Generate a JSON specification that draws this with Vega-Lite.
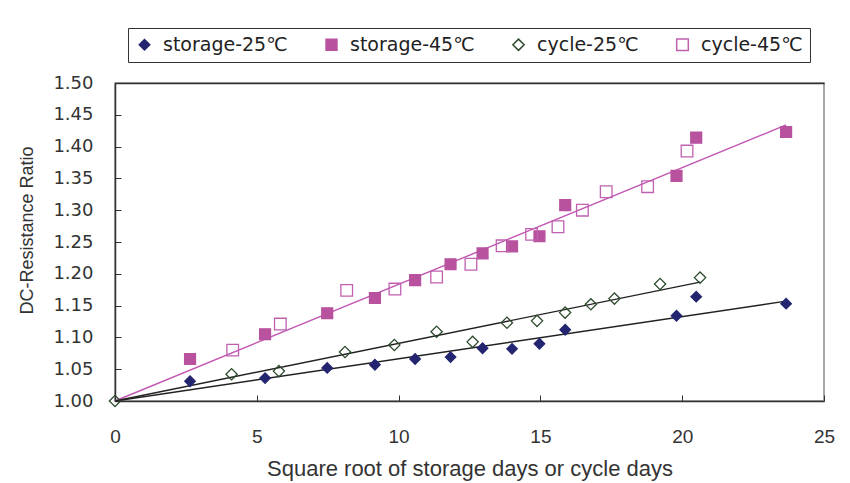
{
  "$schema": "https://vega.github.io/schema/vega-lite/v6.json",
  "width": 709,
  "height": 318,
  "autosize": {"type": "none"},
  "padding": {"left": 115, "top": 83, "right": 26, "bottom": 82},
  "background": "white",
  "config": {
    "view": {"stroke": "#8c8c8c", "strokeWidth": 1.5},
    "axis": {
      "grid": false,
      "domainColor": "#333333",
      "domainWidth": 1.5,
      "tickColor": "#333333",
      "tickWidth": 1,
      "tickSize": -6,
      "labelColor": "#333333",
      "labelFlush": false,
      "labelOverlap": false,
      "titleColor": "#333333",
      "titleFontWeight": "normal"
    },
    "axisY": {
      "values": [1.0, 1.05, 1.1, 1.15, 1.2, 1.25, 1.3, 1.35, 1.4, 1.45, 1.5],
      "format": ".2f",
      "labelFont": "DejaVu Sans",
      "labelFontSize": 18,
      "labelPadding": 28,
      "titleFont": "Liberation Sans",
      "titleFontSize": 18,
      "titlePadding": 16,
      "titleY": 147
    }
  },
  "datasets": {
    "points": [
      {"series": "storage-25℃", "x": 2.646, "y": 1.031},
      {"series": "storage-25℃", "x": 5.292, "y": 1.036},
      {"series": "storage-25℃", "x": 7.483, "y": 1.052},
      {"series": "storage-25℃", "x": 9.165, "y": 1.057},
      {"series": "storage-25℃", "x": 10.583, "y": 1.066},
      {"series": "storage-25℃", "x": 11.832, "y": 1.069},
      {"series": "storage-25℃", "x": 12.961, "y": 1.083},
      {"series": "storage-25℃", "x": 14.0, "y": 1.082},
      {"series": "storage-25℃", "x": 14.967, "y": 1.09},
      {"series": "storage-25℃", "x": 15.875, "y": 1.112},
      {"series": "storage-25℃", "x": 19.799, "y": 1.134},
      {"series": "storage-25℃", "x": 20.494, "y": 1.164},
      {"series": "storage-25℃", "x": 23.664, "y": 1.153},
      {"series": "storage-45℃", "x": 2.646, "y": 1.066},
      {"series": "storage-45℃", "x": 5.292, "y": 1.105},
      {"series": "storage-45℃", "x": 7.483, "y": 1.138},
      {"series": "storage-45℃", "x": 9.165, "y": 1.162},
      {"series": "storage-45℃", "x": 10.583, "y": 1.19},
      {"series": "storage-45℃", "x": 11.832, "y": 1.215},
      {"series": "storage-45℃", "x": 12.961, "y": 1.232},
      {"series": "storage-45℃", "x": 14.0, "y": 1.243},
      {"series": "storage-45℃", "x": 14.967, "y": 1.259},
      {"series": "storage-45℃", "x": 15.875, "y": 1.308},
      {"series": "storage-45℃", "x": 19.799, "y": 1.354},
      {"series": "storage-45℃", "x": 20.494, "y": 1.414},
      {"series": "storage-45℃", "x": 23.664, "y": 1.423},
      {"series": "cycle-25℃", "x": 0, "y": 1.0},
      {"series": "cycle-25℃", "x": 4.11, "y": 1.042},
      {"series": "cycle-25℃", "x": 5.78, "y": 1.047},
      {"series": "cycle-25℃", "x": 8.11, "y": 1.077},
      {"series": "cycle-25℃", "x": 9.85, "y": 1.088},
      {"series": "cycle-25℃", "x": 11.34, "y": 1.109},
      {"series": "cycle-25℃", "x": 12.61, "y": 1.093},
      {"series": "cycle-25℃", "x": 13.82, "y": 1.123},
      {"series": "cycle-25℃", "x": 14.88, "y": 1.126},
      {"series": "cycle-25℃", "x": 15.87, "y": 1.139},
      {"series": "cycle-25℃", "x": 16.78, "y": 1.152},
      {"series": "cycle-25℃", "x": 17.61, "y": 1.161},
      {"series": "cycle-25℃", "x": 19.22, "y": 1.184},
      {"series": "cycle-25℃", "x": 20.63, "y": 1.194},
      {"series": "cycle-45℃", "x": 4.15, "y": 1.08},
      {"series": "cycle-45℃", "x": 5.83, "y": 1.121},
      {"series": "cycle-45℃", "x": 8.17, "y": 1.174},
      {"series": "cycle-45℃", "x": 9.87, "y": 1.176},
      {"series": "cycle-45℃", "x": 11.34, "y": 1.195},
      {"series": "cycle-45℃", "x": 12.55, "y": 1.215},
      {"series": "cycle-45℃", "x": 13.65, "y": 1.244},
      {"series": "cycle-45℃", "x": 14.69, "y": 1.262},
      {"series": "cycle-45℃", "x": 15.62, "y": 1.274},
      {"series": "cycle-45℃", "x": 16.48, "y": 1.3},
      {"series": "cycle-45℃", "x": 17.32, "y": 1.329},
      {"series": "cycle-45℃", "x": 18.78, "y": 1.337},
      {"series": "cycle-45℃", "x": 20.17, "y": 1.393}
    ],
    "trends": [
      {"trend": "storage-25℃", "x": 0, "y": 1.0},
      {"trend": "storage-25℃", "x": 23.664, "y": 1.157},
      {"trend": "45℃", "x": 0, "y": 1.0},
      {"trend": "45℃", "x": 23.664, "y": 1.434},
      {"trend": "cycle-25℃", "x": 0, "y": 1.0},
      {"trend": "cycle-25℃", "x": 20.63, "y": 1.187}
    ]
  },
  "layer": [
    {
      "data": {"name": "trends"},
      "mark": {"type": "line", "strokeWidth": 1.4},
      "encoding": {
        "x": {
          "field": "x",
          "type": "quantitative",
          "scale": {"domain": [0, 25], "nice": false, "zero": false},
          "axis": {"orient": "top", "labels": false, "ticks": false, "title": null, "domainColor": "#333333", "domainWidth": 1.5}
        },
        "y": {
          "field": "y",
          "type": "quantitative",
          "scale": {"domain": [1.0, 1.5], "nice": false, "zero": false},
          "axis": {"title": "DC-Resistance Ratio"}
        },
        "color": {
          "field": "trend",
          "type": "nominal",
          "scale": {"domain": ["storage-25℃", "45℃", "cycle-25℃"], "range": ["#222222", "#C256B2", "#222222"]},
          "legend": null
        }
      }
    },
    {
      "data": {"name": "points"},
      "mark": {"type": "point", "strokeWidth": 1.3, "opacity": 1},
      "encoding": {
        "x": {
          "field": "x",
          "type": "quantitative",
          "scale": {"domain": [0, 25], "nice": false, "zero": false},
          "axis": {
            "orient": "bottom",
            "values": [0, 5, 10, 15, 20, 25],
            "labelFont": "Liberation Sans",
            "labelFontSize": 19,
            "labelPadding": 32,
            "title": "Square root of storage days or cycle days",
            "titleFont": "Liberation Sans",
            "titleFontSize": 22,
            "titlePadding": 12
          }
        },
        "y": {
          "field": "y",
          "type": "quantitative",
          "scale": {"domain": [1.0, 1.5], "nice": false, "zero": false},
          "axis": {"title": "DC-Resistance Ratio"}
        },
        "shape": {
          "field": "series",
          "type": "nominal",
          "scale": {"domain": ["storage-25℃", "storage-45℃", "cycle-25℃", "cycle-45℃"], "range": ["diamond", "square", "diamond", "square"]},
          "legend": {
            "orient": "none",
            "legendX": 13,
            "legendY": -55,
            "direction": "horizontal",
            "title": null,
            "strokeColor": "#333333",
            "padding": 7,
            "labelFont": "DejaVu Sans",
            "labelFontSize": 19,
            "labelColor": "#222222",
            "labelOffset": 9,
            "columnPadding": 34
          }
        },
        "fill": {
          "field": "series",
          "type": "nominal",
          "scale": {"domain": ["storage-25℃", "storage-45℃", "cycle-25℃", "cycle-45℃"], "range": ["#232570", "#B8529E", "transparent", "transparent"]}
        },
        "stroke": {
          "field": "series",
          "type": "nominal",
          "scale": {"domain": ["storage-25℃", "storage-45℃", "cycle-25℃", "cycle-45℃"], "range": ["#232570", "#B8529E", "#2E4A2E", "#C060B0"]}
        },
        "size": {
          "field": "series",
          "type": "nominal",
          "scale": {"domain": ["storage-25℃", "storage-45℃", "cycle-25℃", "cycle-45℃"], "range": [110, 135, 145, 125]}
        }
      }
    }
  ]
}
